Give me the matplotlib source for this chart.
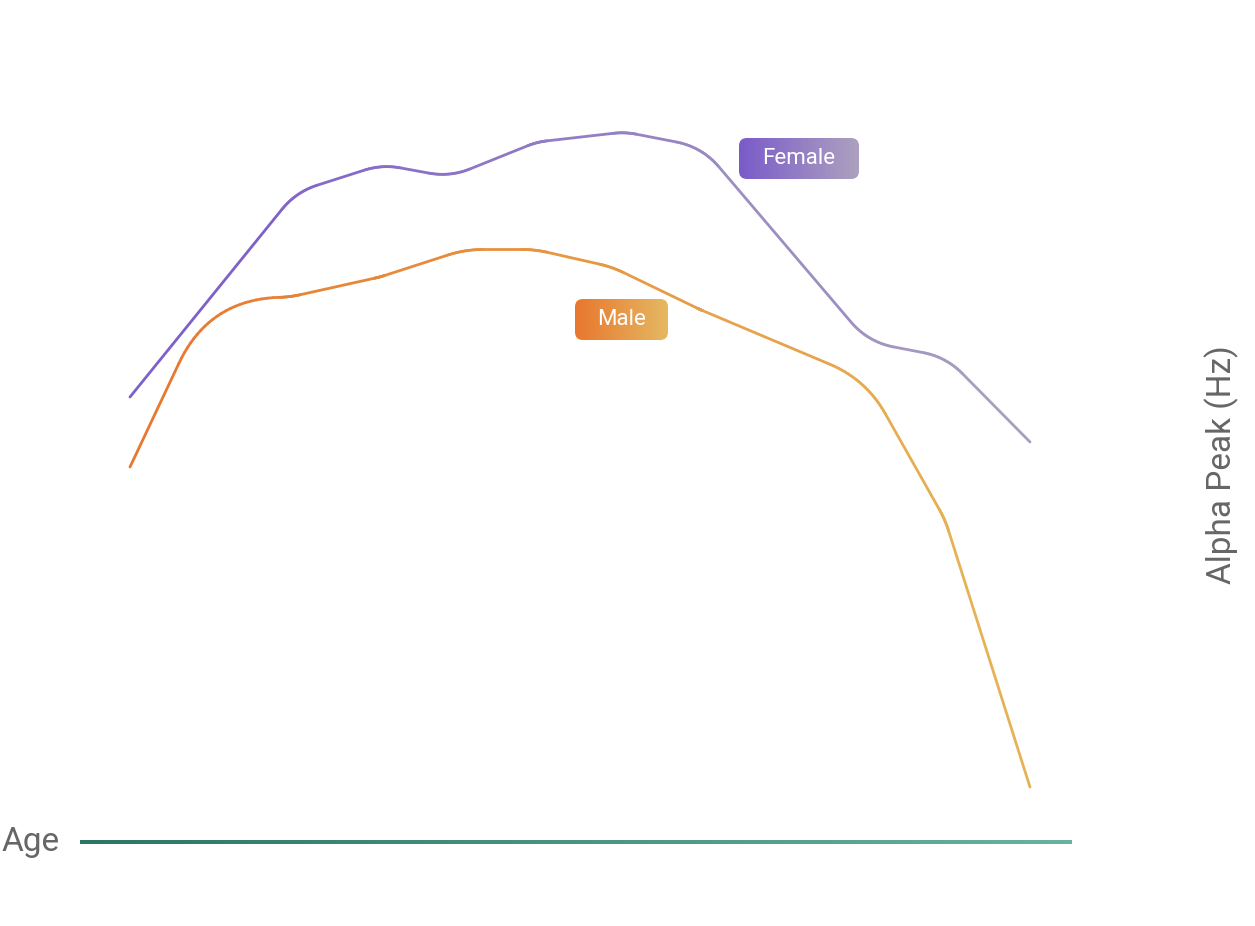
import numpy as np
import matplotlib
matplotlib.use("Agg")
import matplotlib.pyplot as plt
import matplotlib.transforms as mtransforms
from matplotlib.collections import LineCollection
from matplotlib.colors import LinearSegmentedColormap
from matplotlib.patches import FancyBboxPatch

plt.rcParams["font.family"] = ["Roboto", "DejaVu Sans"]

# vertices of the two curves (age in years, alpha peak in Hz)
female_age = [0, 16.6, 25.2, 32.0, 40.7, 49.5, 57.2, 73.8, 81.6, 90]
female_hz = [9.56, 10.38, 10.49, 10.44, 10.58, 10.62, 10.56, 9.78, 9.72, 9.38]
male_age = [0, 7.9, 16.0, 25.0, 33.5, 40.5, 48.2, 57.0, 73.6, 81.5, 90]
male_hz = [9.28, 9.95, 9.96, 10.04, 10.15, 10.15, 10.08, 9.91, 9.63, 9.07, 8.0]

W, H = 1255, 926
fig = plt.figure(figsize=(W / 100, H / 100), dpi=100)
ax = fig.add_axes([0, 0, 1, 1])
ax.set_xlim(-13, 112.5)
ax.set_ylim(7.444, 11.148)
ax.set_autoscale_on(False)
ax.axis("off")

# pixel coords with origin at top-left
pix = mtransforms.Affine2D().scale(1 / 100, -1 / 100).translate(0, H / 100) + fig.dpi_scale_trans


def pix_to_data(x, y):
    return ax.transData.inverted().transform(pix.transform([x, y]))


def rounded(xs, ys, R, n=24):
    # fillet every corner with an arc of radius R (in pixels)
    pts = ax.transData.transform(np.column_stack([xs, ys]))
    out = [pts[0]]
    t = np.linspace(0, 1, n)[:, None]
    used = 0.0
    for i in range(1, len(pts) - 1):
        p0, p1, p2 = pts[i - 1], pts[i], pts[i + 1]
        l1 = np.linalg.norm(p1 - p0)
        l2 = np.linalg.norm(p2 - p1)
        u1 = (p1 - p0) / l1
        u2 = (p2 - p1) / l2
        theta = np.arccos(np.clip(np.dot(u1, u2), -1, 1))
        d = min(R * np.tan(theta / 2), l1 - used, l2 * 0.9)
        a = p1 - u1 * d
        b = p1 + u2 * d
        out.extend((1 - t) ** 2 * a + 2 * (1 - t) * t * p1 + t ** 2 * b)
        used = d
    out.append(pts[-1])
    return ax.transData.inverted().transform(np.array(out))


def gradient_line(xs, ys, c0, c1, R, lw=2.0):
    pts = rounded(xs, ys, R)
    segs = np.stack([pts[:-1], pts[1:]], axis=1)
    cmap = LinearSegmentedColormap.from_list("g", [c0, c1])
    mid = (segs[:, 0, 0] + segs[:, 1, 0]) / 2
    frac = (mid - xs[0]) / (xs[-1] - xs[0])
    lc = LineCollection(segs, colors=cmap(frac), linewidths=lw,
                        capstyle="round", joinstyle="round", zorder=2)
    ax.add_collection(lc)


def gradient_rect(x0, y0, x1, y1, c0, c1, text=None, radius=0):
    cmap = LinearSegmentedColormap.from_list("b", [c0, c1])
    dx0, dy1 = pix_to_data(x0, y0)
    dx1, dy0 = pix_to_data(x1, y1)
    grad = np.linspace(0, 1, 256)[None, :]
    im = ax.imshow(grad, extent=(dx0, dx1, dy0, dy1), aspect="auto",
                   cmap=cmap, interpolation="bilinear", zorder=3)
    if radius:
        box = FancyBboxPatch((x0, y0), x1 - x0, y1 - y0,
                             boxstyle=f"round,pad=0,rounding_size={radius}",
                             transform=pix, facecolor="none", edgecolor="none")
        ax.add_patch(box)
        im.set_clip_path(box)
    if text:
        fig.text((x0 + x1) / 2 / W, 1 - (y0 + y1) / 2 / H, text, color="white",
                 fontsize=16, ha="center", va="center", zorder=4)


gradient_line(female_age, female_hz, "#7a5bc9", "#aaa1bf", R=75)
gradient_line(male_age, male_hz, "#e8772e", "#e5b657", R=115)

gradient_rect(739, 138, 859, 179, "#7a5bc9", "#aca1bf", "Female", radius=8)
gradient_rect(575, 299, 668, 340, "#e8772e", "#e5b862", "Male", radius=8)

# age axis
gradient_rect(80, 840, 1072, 844, "#2d7565", "#67b39f")
fig.text(2 / W, 1 - 842 / H, "Age", color="#666666", fontsize=24,
         ha="left", va="center")
fig.text(1222 / W, 1 - 465 / H, "Alpha Peak (Hz)", color="#666666",
         fontsize=24, rotation=90, ha="center", va="center")

fig.savefig("out.png", dpi=100, facecolor="white")
